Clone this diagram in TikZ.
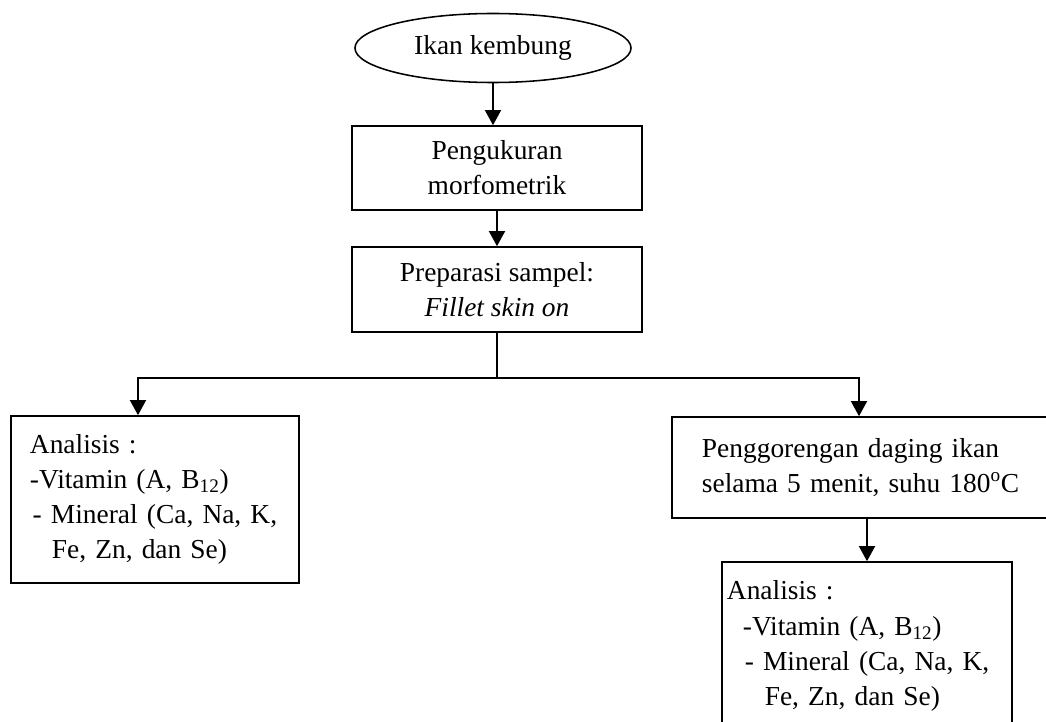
\documentclass[tikz,border=0pt]{standalone}
\usepackage{fontspec}
\setmainfont{Liberation Serif}
\usepackage{tikz}
\usetikzlibrary{shapes.geometric,arrows.meta}
\tikzstyle{mulai} = [ellipse, draw=black, line width=1.1pt, minimum width=6.9cm, minimum height=1.725cm, inner sep=0pt]
\tikzstyle{proses} = [rectangle, draw=black, line width=1.1pt, minimum width=7.25cm, minimum height=2.1cm, align=center]
\tikzstyle{hasil} = [rectangle, draw=black, line width=1.1pt, text width=6.25cm, inner xsep=0.475cm, minimum height=4.175cm, align=left]
\tikzstyle{arrow} = [line width=1.5pt, -{Triangle[length=0.38cm,width=0.4cm]}]
\newcommand{\teks}{\fontsize{19.5}{25}\selectfont}

\begin{document}
\begin{tikzpicture}[x=0.025cm, y=-0.025cm, font=\teks]
\useasboundingbox (0,0) rectangle (1046,722);
\clip (0,0) rectangle (1046,722);
\node (kembung) [mulai] at (493,48) {Ikan kembung};
\node (ukur) [proses] at (497,168) {Pengukuran\\morfometrik};
\node (prep) [proses, minimum height=2.125cm] at (497,289.5) {Preparasi sampel:\\\textit{Fillet skin on}};
\node (analisis1) [hasil] at (155,499.5) {Analisis :\\
-Vitamin (A, B\textsubscript{12})\\
\hspace*{0.1em}- Mineral (Ca, Na, K,\\
\hspace*{0.8em}Fe, Zn, dan Se)};
\node (goreng) [hasil, text width=8.2cm, inner xsep=0.75cm, minimum height=2.525cm] at (866,467.5) {Penggorengan daging ikan\\
selama 5 menit, suhu 180\textsuperscript{o}C};
\node (analisis2) [hasil, text width=7cm, inner xsep=0.125cm, minimum height=4.2cm] at (867,646) {Analisis :\\
\hspace*{0.58em}-Vitamin (A, B\textsubscript{12})\\
\hspace*{0.65em}- Mineral (Ca, Na, K,\\
\hspace*{1.38em}Fe, Zn, dan Se)};
% percabangan
\coordinate (cabang) at (497,378);
\coordinate (kiriPanah) at (138,378);
\coordinate (kananPanah) at (859,378);
\draw[arrow] (kembung.south) -- (kembung.south |- ukur.north);
\draw[arrow] (ukur) -- (prep);
\draw[line width=1.5pt] (prep.south) -- (cabang);
\draw[arrow] (cabang) -| (analisis1.north -| kiriPanah);
\draw[arrow] (cabang) -| (goreng.north -| kananPanah);
\draw[arrow] (analisis2.north |- goreng.south) -- (analisis2.north);
\end{tikzpicture}
\end{document}
